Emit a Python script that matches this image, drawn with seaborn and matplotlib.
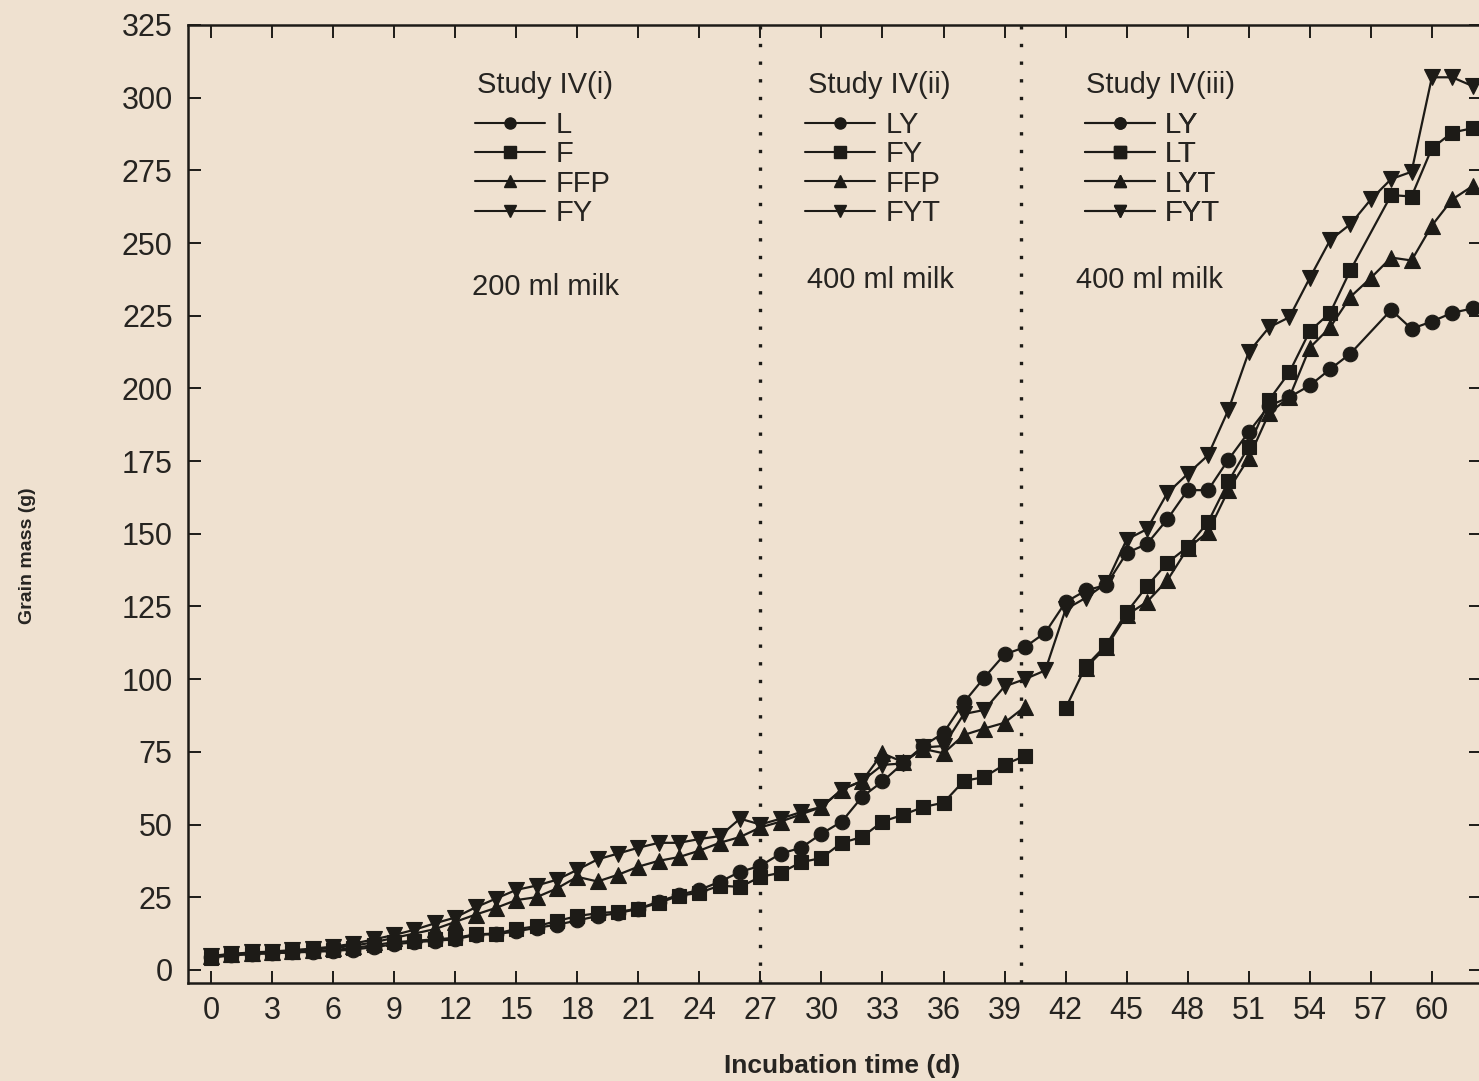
import numpy as np
import pandas as pd
import seaborn as sns
import matplotlib.pyplot as plt
from matplotlib.lines import Line2D

# ---- data: grain mass (g) per incubation day ----
# Studies IV(i) and IV(ii), days 0-40 (one continuous series per marker)
days_i_ii = list(range(0, 41))
circle_L_LY = [4.5, 5, 5.5, 5.7, 6, 6.2, 6.5, 7, 7.8, 8.8, 9.5, 10, 10.5, 12, 12.3,
               13.2, 14.5, 15.5, 17, 18.5, 19.5, 21, 23.5, 25.8, 27.5, 30.3, 33.7,
               35.8, 40, 42, 46.8, 51, 59.5, 64.8, 71, 77, 81.5, 92, 100.5, 108.5, 111]
square_F_FY = [4.2, 5, 5.5, 5.8, 6, 6.4, 6.8, 7.5, 8.5, 9.5, 10, 10.5, 11, 12.2, 12.5,
               14, 15, 16.8, 18.5, 19.5, 20, 21, 23, 25.5, 26.5, 29, 28.5,
               32, 33.4, 37, 38.5, 43.7, 45.7, 51, 53.3, 56, 57.5, 65, 66.3, 70.6, 73.6]
up_FFP = [4.8, 5.3, 5.8, 6, 6.5, 7, 7.5, 8.3, 9.5, 11, 12.5, 14, 16.5, 19, 21.3,
          24, 25, 28, 32, 30.4, 32.7, 35.5, 37.5, 38.8, 41, 43.7, 45.7,
          49, 51, 53.5, 56, 62, 65, 74.5, 71.5, 76, 74.5, 80.8, 83, 85, 90.5]
down_FY_FYT = [4.8, 5.5, 6, 6.3, 6.8, 7.3, 8, 9, 10.5, 12, 13.8, 16, 18, 21.5, 24.5,
               27.5, 29, 31, 34.4, 38, 40, 42, 43.7, 43.7, 45, 46, 52,
               50, 52, 54.3, 56, 62, 65, 70.5, 71, 76.5, 77, 88, 89.4, 97.5, 100]

# Study IV(iii)
days_LY = [41, 42, 43, 44, 45, 46, 47, 48, 49, 50, 51, 52, 53, 54, 55, 56, 58, 59, 60, 61, 62]
LY = [116, 126.5, 130.5, 132.4, 143.4, 146.5, 155, 165, 165, 175.5, 185, 194, 197, 201,
      206.6, 212, 227, 220.5, 223, 226, 227.5]
days_LT = [42, 43, 44, 45, 46, 47, 48, 49, 50, 51, 52, 53, 54, 55, 56, 58, 59, 60, 61, 62]
LT = [90, 104.5, 111.8, 123, 132, 140, 145.5, 154, 168, 180, 196, 205.6, 219.7, 226,
      240.7, 266.5, 266, 282.6, 288, 289.5]
days_LYT = list(range(43, 63))
LYT = [104, 111, 122, 126.6, 134, 145, 150.6, 165, 176, 191.5, 197, 214, 221, 231.5,
       238, 245, 244, 256, 265, 269.6]
days_FYT = list(range(41, 63))
FYT = [103, 124, 128, 133, 148, 151.6, 164, 170.6, 177, 192.6, 212.5, 221, 224.5, 238,
       251, 256.5, 265, 272, 274.5, 307, 307, 304]

study_titles = ["Study IV(i)", "Study IV(ii)", "Study IV(iii)"]
study_labels = [["L", "F", "FFP", "FY"],
                ["LY", "FY", "FFP", "FYT"],
                ["LY", "LT", "LYT", "FYT"]]
milk_notes = ["200 ml milk", "400 ml milk", "400 ml milk"]
x_ticks = list(range(0, 61, 3))
y_ticks = list(range(0, 326, 25))

# ---- style ----
BG = "#efe1d0"
INK = "#1d1b17"
TXT = "#262421"
sns.set_theme(style="ticks")
plt.rcParams["font.family"] = ["Liberation Sans", "DejaVu Sans"]
plt.rcParams["axes.facecolor"] = BG
plt.rcParams["figure.facecolor"] = BG

fig = plt.figure(figsize=(14.79, 10.81), dpi=100)
ax = fig.add_axes([0.1271, 0.0907, 0.8742, 0.8862])
ax.set_facecolor(BG)

marker_sizes = {"o": 10.5, "s": 10, "^": 11.5, "v": 11.5}


def draw(days, values, marker):
    frame = pd.DataFrame({"day": days, "mass": values})
    sns.lineplot(data=frame, x="day", y="mass", ax=ax, color=INK, marker=marker,
                 markersize=marker_sizes[marker], markeredgecolor=INK,
                 markeredgewidth=0.8, linewidth=1.6, estimator=None, sort=False,
                 legend=False)


# circles and inverted triangles run unbroken into study IV(iii)
draw(days_i_ii + days_LY, circle_L_LY + LY, "o")
draw(days_i_ii + days_FYT, down_FY_FYT + FYT, "v")
draw(days_i_ii, square_F_FY, "s")
draw(days_LT, LT, "s")
draw(days_i_ii, up_FFP, "^")
draw(days_LYT, LYT, "^")

# study boundaries
for xb in (27, 39.8):
    ax.axvline(xb, color=INK, linewidth=2.4, linestyle=(0, (1, 4.3)), zorder=1)

# ---- axes ----
ax.set_xlim(-1.13, 62.41)
ax.set_ylim(-4.5, 325)
ax.set_xticks(x_ticks)
ax.set_yticks(y_ticks)
ax.tick_params(axis="both", which="major", direction="in", length=9, width=1.4,
               color=INK, labelsize=22, labelcolor=TXT,
               top=True, right=True, labeltop=False, labelright=False)
ax.tick_params(axis="x", pad=9.5)
ax.tick_params(axis="y", pad=11)
for side in ax.spines.values():
    side.set_linewidth(1.8)
    side.set_color(INK)
    side.set_visible(True)

ax.set_xlabel("Incubation time (d)", fontsize=19, fontweight="bold", color=TXT,
              va="center")
ax.set_ylabel("Grain mass (g)", fontsize=14, fontweight="bold", color=TXT,
              va="center")
ax.xaxis.set_label_coords(0.506, -0.0866)
ax.yaxis.set_label_coords(-0.124, 0.446)

# ---- per-study keys ----
title_pos = [(0.2235, 0.9374), (0.4795, 0.9374), (0.6945, 0.9374)]
key_pos = [(0.222, 0.8497), (0.4772, 0.8497), (0.6937, 0.8497)]
note_pos = [(0.2196, 0.7265), (0.4787, 0.7338), (0.6868, 0.7338)]
key_markers = ["o", "s", "^", "v"]

for k in range(3):
    ax.text(*title_pos[k], study_titles[k], transform=ax.transAxes, fontsize=21,
            color=TXT, ha="left", va="center")
    handles = [Line2D([], [], color=INK, marker=m, markersize=8, linewidth=1.5,
                      markeredgecolor=INK) for m in key_markers]
    leg = ax.legend(handles, study_labels[k], loc="center left",
                    bbox_to_anchor=key_pos[k], frameon=False, fontsize=21,
                    handlelength=2.4, handletextpad=0.35, labelspacing=0.05,
                    borderpad=0, borderaxespad=0, labelcolor=TXT)
    ax.add_artist(leg)
    ax.text(*note_pos[k], milk_notes[k], transform=ax.transAxes, fontsize=21,
            color=TXT, ha="left", va="center")

fig.savefig("out.png", dpi=100, facecolor=BG)
